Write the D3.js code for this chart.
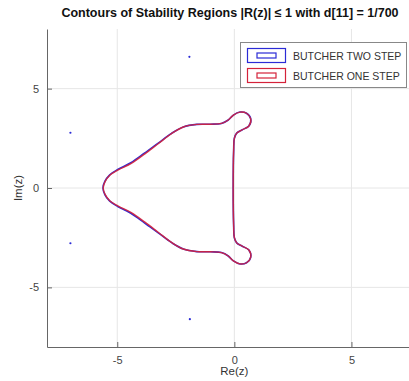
<!DOCTYPE html>
<html>
<head>
<meta charset="utf-8">
<script src="https://cdn.jsdelivr.net/npm/d3@7"></script>
<style>
  body { margin: 0; background: #fff; }
  text { font-family: "Liberation Sans", Arial, sans-serif; }
</style>
</head>
<body>
<div id="chart"></div>
<script>
// Contour of the one step method (Re, Im), closed loop
var oneStep = [
    [-5.60, 0.00], [-5.52, 0.32], [-5.32, 0.64], [-4.96, 0.91], [-4.40, 1.24],
    [-3.82, 1.72], [-3.24, 2.24], [-2.68, 2.74], [-2.18, 3.07], [-1.60, 3.20],
    [-1.03, 3.21], [-0.55, 3.25], [-0.26, 3.42], [-0.04, 3.67], [0.24, 3.82],
    [0.52, 3.76], [0.70, 3.48], [0.62, 3.12], [0.34, 2.93], [0.10, 2.76],
    [0.00, 2.50], [-0.03, 1.90], [-0.05, 0.00], [-0.03, -1.90], [0.00, -2.50],
    [0.10, -2.76], [0.34, -2.93], [0.62, -3.12], [0.70, -3.48], [0.52, -3.76],
    [0.24, -3.82], [-0.04, -3.67], [-0.26, -3.42], [-0.55, -3.25], [-1.03, -3.21],
    [-1.60, -3.20], [-2.18, -3.07], [-2.68, -2.74], [-3.24, -2.24], [-3.82, -1.72],
    [-4.40, -1.24], [-4.96, -0.91], [-5.32, -0.64], [-5.52, -0.32]
];

// Contour of the two step method, a touch wider on the left shoulders
var twoStep = [
    [-5.61, 0.00], [-5.53, 0.33], [-5.33, 0.65], [-4.98, 0.93], [-4.42, 1.27],
    [-3.84, 1.75], [-3.25, 2.26], [-2.68, 2.75], [-2.18, 3.07], [-1.60, 3.20],
    [-1.03, 3.21], [-0.55, 3.25], [-0.26, 3.42], [-0.04, 3.67], [0.24, 3.82],
    [0.52, 3.76], [0.70, 3.48], [0.62, 3.12], [0.34, 2.93], [0.10, 2.76],
    [0.00, 2.50], [-0.03, 1.90], [-0.05, 0.00], [-0.03, -1.90], [0.00, -2.50],
    [0.10, -2.76], [0.34, -2.93], [0.62, -3.12], [0.70, -3.48], [0.52, -3.76],
    [0.24, -3.82], [-0.04, -3.67], [-0.26, -3.42], [-0.55, -3.25], [-1.03, -3.21],
    [-1.60, -3.20], [-2.18, -3.07], [-2.68, -2.75], [-3.25, -2.26], [-3.84, -1.75],
    [-4.42, -1.27], [-4.98, -0.93], [-5.33, -0.65], [-5.53, -0.33]
];

// isolated points (Re, Im)
var dots = [[-7.0, 2.78], [-7.0, -2.78], [-1.92, 6.6], [-1.90, -6.6]];

var tickValues = [-5, 0, 5];
var legendLabels = ["BUTCHER TWO STEP", "BUTCHER ONE STEP"];
var legendColors = ["#2b2bd6", "#d4223a"];

var svgWidth = 409;
var svgHeight = 381;

var margin = { top: 29, right: -1, bottom: 34, left: 47 };
var width = svgWidth - margin.left - margin.right;
var height = svgHeight - margin.top - margin.bottom;

var svg = d3.select("#chart")
    .append("svg")
    .attr("width", svgWidth)
    .attr("height", svgHeight);

var chartGroup = svg.append("g")
    .attr("transform", `translate(${margin.left}, ${margin.top})`);

var xScale = d3.scaleLinear()
    .domain([-8, 7.5])
    .range([0, width]);

var yScale = d3.scaleLinear()
    .domain([-8, 8])
    .range([height, 0]);

// grid lines
chartGroup.append("g")
    .selectAll("line.gx")
    .data(tickValues)
    .enter()
    .append("line")
    .attr("x1", d => xScale(d))
    .attr("x2", d => xScale(d))
    .attr("y1", 0)
    .attr("y2", height)
    .attr("stroke", "#e6e6e6")
    .attr("stroke-width", 1);

chartGroup.append("g")
    .selectAll("line.gy")
    .data(tickValues)
    .enter()
    .append("line")
    .attr("x1", 0)
    .attr("x2", width)
    .attr("y1", d => yScale(d))
    .attr("y2", d => yScale(d))
    .attr("stroke", "#e6e6e6")
    .attr("stroke-width", 1);

// axes, plain hyphen for negative labels
var xAxis = d3.axisBottom(xScale).tickValues(tickValues).tickFormat(d => String(d))
    .tickSizeInner(-5).tickSizeOuter(0).tickPadding(9);
var yAxis = d3.axisLeft(yScale).tickValues(tickValues).tickFormat(d => String(d))
    .tickSizeInner(-5).tickSizeOuter(0).tickPadding(8);

var gx = chartGroup.append("g")
    .attr("transform", `translate(0, ${height})`)
    .call(xAxis);

var gy = chartGroup.append("g")
    .call(yAxis);

[gx, gy].forEach(function(g) {
    g.select(".domain").attr("stroke", "#666").attr("stroke-width", 1);
    g.selectAll(".tick line").attr("stroke", "#666");
    g.selectAll(".tick text")
        .attr("fill", "#444")
        .style("font-size", "11px")
        .style("font-family", "'Liberation Sans', Arial, sans-serif");
});

// contours
var line = d3.line()
    .x(d => xScale(d[0]))
    .y(d => yScale(d[1]))
    .curve(d3.curveCatmullRomClosed);

chartGroup.append("path")
    .datum(twoStep)
    .attr("d", line)
    .attr("fill", "none")
    .attr("stroke", legendColors[0])
    .attr("stroke-width", 1.6);

chartGroup.append("path")
    .datum(oneStep)
    .attr("d", line)
    .attr("fill", "none")
    .attr("stroke", legendColors[1])
    .attr("stroke-width", 1.4)
    .attr("stroke-opacity", 0.9);

chartGroup.selectAll("circle")
    .data(dots)
    .enter()
    .append("circle")
    .attr("cx", d => xScale(d[0]))
    .attr("cy", d => yScale(d[1]))
    .attr("r", 1.1)
    .attr("fill", legendColors[0]);

// title
svg.append("text")
    .attr("x", 230)
    .attr("y", 17)
    .attr("text-anchor", "middle")
    .style("font-size", "12.5px")
    .style("font-weight", "bold")
    .attr("fill", "#111")
    .text("Contours of Stability Regions |R(z)| \u2264 1 with d[11] = 1/700");

// axis labels
svg.append("text")
    .attr("x", margin.left + xScale(0))
    .attr("y", 375)
    .attr("text-anchor", "middle")
    .style("font-size", "11.5px")
    .attr("fill", "#333")
    .text("Re(z)");

svg.append("text")
    .attr("transform", `translate(22, ${margin.top + yScale(0)}) rotate(-90)`)
    .attr("text-anchor", "middle")
    .style("font-size", "11.5px")
    .attr("fill", "#333")
    .text("Im(z)");

// legend
var legend = svg.append("g")
    .attr("transform", "translate(240, 42)");

legend.append("rect")
    .attr("x", 0.5)
    .attr("y", 0.5)
    .attr("width", 166)
    .attr("height", 45)
    .attr("fill", "#fff")
    .attr("stroke", "#888")
    .attr("stroke-width", 1);

var items = legend.selectAll("g.item")
    .data(legendLabels)
    .enter()
    .append("g")
    .attr("transform", (d, i) => `translate(0, ${6 + i * 20})`);

items.append("rect")
    .attr("x", 7.5)
    .attr("y", 0.5)
    .attr("width", 38)
    .attr("height", 14)
    .attr("fill", "none")
    .attr("stroke", (d, i) => legendColors[i])
    .attr("stroke-width", 1.2);

items.append("rect")
    .attr("x", 17)
    .attr("y", 5)
    .attr("width", 19)
    .attr("height", 5)
    .attr("fill", "none")
    .attr("stroke", (d, i) => legendColors[i])
    .attr("stroke-width", 1.2);

items.append("text")
    .attr("x", 53)
    .attr("y", 11.5)
    .style("font-size", "10.5px")
    .attr("fill", "#333")
    .text(d => d);
</script>
</body>
</html>
